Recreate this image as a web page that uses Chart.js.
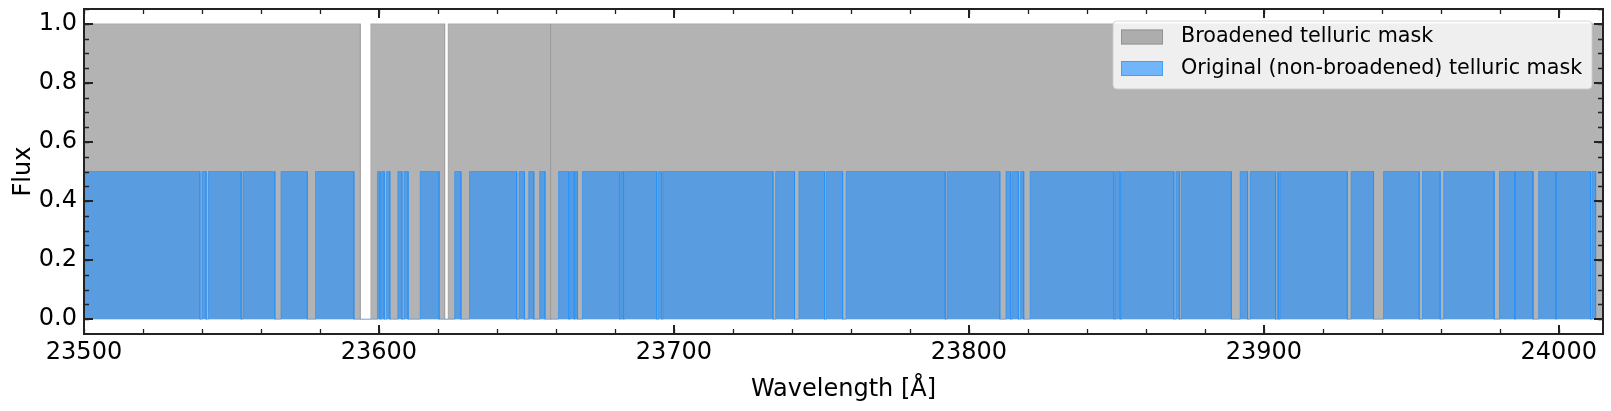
<!DOCTYPE html>
<html>
<head>
<meta charset="utf-8">
<script src="https://cdn.jsdelivr.net/npm/chart.js@4.4.0/dist/chart.umd.min.js"></script>
<style>
  html, body { margin: 0; padding: 0; background: #fff; }
  #wrap { width: 1611px; height: 411px; position: relative; }
</style>
</head>
<body>
<div id="wrap"><canvas id="maskChart"></canvas></div>
<script>
// wavelength window shown (Angstrom)
const waveMin = 23500;
const waveMax = 24015;

// broadened telluric mask = 1 everywhere except these gaps
const broadGapStart = [23593.7, 23622.3, 23658.2];
const broadGapEnd   = [23597.2, 23623.4, 23658.4];

// original (non-broadened) mask = 0.5 inside these windows
const origLevel = 0.5;
const origStart = [
  23500.0, 23540.0, 23542.2, 23553.9, 23566.8, 23578.5, 23599.5, 23600.9, 23602.6, 23606.4,
  23608.5, 23614.0, 23625.7, 23630.7, 23647.5, 23650.8, 23654.5, 23660.9, 23664.8, 23666.5,
  23669.0, 23682.2, 23683.3, 23694.8, 23696.3, 23734.5, 23742.4, 23751.7, 23758.4, 23792.6,
  23812.6, 23814.7, 23817.5, 23820.8, 23849.7, 23851.8, 23870.2, 23872.0, 23892.0, 23895.4,
  23904.6, 23905.5, 23929.6, 23940.6, 23953.8, 23961.0, 23979.9, 23985.3, 23993.2, 23999.2,
  24011.3
];
const origEnd = [
  23539.3, 23541.4, 23553.3, 23564.7, 23575.7, 23591.5, 23600.4, 23601.8, 23603.7, 23607.8,
  23609.9, 23620.4, 23627.8, 23646.7, 23649.3, 23652.5, 23656.3, 23664.4, 23666.2, 23667.3,
  23681.7, 23682.9, 23694.2, 23695.9, 23733.6, 23740.9, 23751.1, 23757.2, 23792.0, 23810.5,
  23814.2, 23816.8, 23818.6, 23849.2, 23851.3, 23869.5, 23871.4, 23889.0, 23894.5, 23904.0,
  23905.1, 23928.3, 23937.2, 23952.7, 23959.8, 23978.1, 23985.1, 23991.3, 23999.0, 24010.8,
  24012.5
];

// tick labels
const xTickValues = [23500, 23600, 23700, 23800, 23900, 24000];
const yTickValues = [0.0, 0.2, 0.4, 0.6, 0.8, 1.0];

const labelBroad = 'Broadened telluric mask';
const labelOrig = 'Original (non-broadened) telluric mask';

const FONT = 'DejaVu Sans';
const grayFill = 'rgba(128,128,128,0.6)';
const grayEdge = 'rgba(128,128,128,0.3)';
const blueFill = 'rgba(30,144,255,0.6)';

// step outlines for the two masks
function broadPoints() {
  const pts = [{ x: waveMin, y: 0 }, { x: waveMin, y: 1 }];
  broadGapStart.forEach((s, i) => {
    const e = broadGapEnd[i];
    pts.push({ x: s, y: 1 }, { x: s, y: 0 }, { x: e, y: 0 }, { x: e, y: 1 });
  });
  pts.push({ x: waveMax, y: 1 }, { x: waveMax, y: 0 });
  return pts;
}

function origPoints() {
  const pts = [];
  origStart.forEach((s, i) => {
    const e = origEnd[i];
    pts.push({ x: s, y: 0 }, { x: s, y: origLevel }, { x: e, y: origLevel }, { x: e, y: 0 });
  });
  pts.push({ x: waveMax, y: 0 });
  return pts;
}

// no extra label overflow padding, fixed axis boxes
function fixX(s) {
  s.height = 77;
  s.paddingLeft = 0; s.paddingRight = 0;
}
function fixY(s) {
  s.width = 84;
  s.paddingTop = 0; s.paddingBottom = 0;
}

// spines, inward ticks on all four sides, legend box
const frameAndLegend = {
  id: 'frameAndLegend',
  afterDraw(chart) {
    const ctx = chart.ctx;
    const a = chart.chartArea;
    const xs = chart.scales.x, ys = chart.scales.y;
    ctx.save();
    ctx.strokeStyle = '#222';

    // minor ticks
    ctx.lineWidth = 1.3;
    ctx.beginPath();
    for (let v = waveMin; v <= waveMax; v += 20) {
      const px = Math.round(xs.getPixelForValue(v)) + 0.5;
      ctx.moveTo(px, a.bottom); ctx.lineTo(px, a.bottom - 5);
      ctx.moveTo(px, a.top); ctx.lineTo(px, a.top + 5);
    }
    for (let k = -1; k <= 21; k++) {
      const py = Math.round(ys.getPixelForValue(k * 0.05)) + 0.5;
      if (py < a.top || py > a.bottom) continue;
      ctx.moveTo(a.left, py); ctx.lineTo(a.left + 5, py);
      ctx.moveTo(a.right, py); ctx.lineTo(a.right - 5, py);
    }
    ctx.stroke();

    // major ticks
    ctx.lineWidth = 2;
    ctx.beginPath();
    xTickValues.forEach(v => {
      const px = Math.round(xs.getPixelForValue(v));
      ctx.moveTo(px, a.bottom); ctx.lineTo(px, a.bottom - 9);
      ctx.moveTo(px, a.top); ctx.lineTo(px, a.top + 9);
    });
    yTickValues.forEach(v => {
      const py = Math.round(ys.getPixelForValue(v));
      ctx.moveTo(a.left, py); ctx.lineTo(a.left + 9, py);
      ctx.moveTo(a.right, py); ctx.lineTo(a.right - 9, py);
    });
    ctx.stroke();

    // spines
    ctx.lineWidth = 2;
    ctx.strokeRect(a.left, a.top, a.right - a.left, a.bottom - a.top);

    // legend
    const bx = 1113, by = 21, bw = 479, bh = 68;
    ctx.beginPath();
    ctx.roundRect(bx, by, bw, bh, 4);
    ctx.fillStyle = 'rgba(255,255,255,0.8)';
    ctx.fill();
    ctx.lineWidth = 1;
    ctx.strokeStyle = 'rgba(204,204,204,0.8)';
    ctx.stroke();

    const rows = [
      { text: labelBroad, fill: grayFill, cy: 37 },
      { text: labelOrig, fill: blueFill, cy: 68.5 }
    ];
    ctx.font = `20.7px "${FONT}"`;
    ctx.textBaseline = 'middle';
    ctx.textAlign = 'left';
    rows.forEach(r => {
      ctx.fillStyle = r.fill;
      ctx.fillRect(1121, r.cy - 7.5, 42, 15);
      ctx.strokeStyle = r.fill;
      ctx.strokeRect(1121.5, r.cy - 7, 41, 14);
      ctx.fillStyle = '#000';
      ctx.fillText(r.text, 1181, r.cy);
    });
    ctx.restore();
  }
};

const ctx = document.getElementById('maskChart').getContext('2d');
new Chart(ctx, {
  type: 'line',
  data: {
    datasets: [
      {
        label: labelOrig,
        data: origPoints(),
        order: 1,
        fill: 'origin',
        backgroundColor: blueFill,
        borderColor: blueFill,
        borderWidth: 1,
        pointRadius: 0,
        tension: 0
      },
      {
        label: labelBroad,
        data: broadPoints(),
        order: 2,
        fill: 'origin',
        backgroundColor: grayFill,
        borderColor: grayEdge,
        borderWidth: 1,
        pointRadius: 0,
        tension: 0
      }
    ]
  },
  options: {
    responsive: true,
    maintainAspectRatio: false,
    animation: false,
    devicePixelRatio: 1,
    layout: { padding: { left: 0, right: 8, top: 9, bottom: 0 } },
    plugins: {
      legend: { display: false },
      tooltip: { enabled: false }
    },
    scales: {
      x: {
        type: 'linear',
        min: waveMin,
        max: waveMax,
        afterBuildTicks: s => { s.ticks = xTickValues.map(v => ({ value: v })); },
        afterFit: fixX,
        grid: { display: false, drawTicks: false },
        border: { display: false },
        ticks: {
          padding: 4,
          maxRotation: 0,
          autoSkip: false,
          color: '#000',
          font: { family: FONT, size: 24 },
          callback: v => String(v)
        },
        title: {
          display: true,
          text: 'Wavelength [Å]',
          color: '#000',
          font: { family: FONT, size: 24 },
          padding: { top: 0, bottom: 7 }
        }
      },
      y: {
        min: -0.05,
        max: 1.05,
        afterBuildTicks: s => { s.ticks = yTickValues.map(v => ({ value: v })); },
        afterFit: fixY,
        grid: { display: false, drawTicks: false },
        border: { display: false },
        ticks: {
          padding: 7,
          color: '#000',
          font: { family: FONT, size: 24 },
          callback: v => v.toFixed(1)
        },
        title: {
          display: true,
          text: 'Flux',
          color: '#000',
          font: { family: FONT, size: 24 },
          padding: { top: 9, bottom: 0 }
        }
      }
    }
  },
  plugins: [frameAndLegend]
});
</script>
</body>
</html>
